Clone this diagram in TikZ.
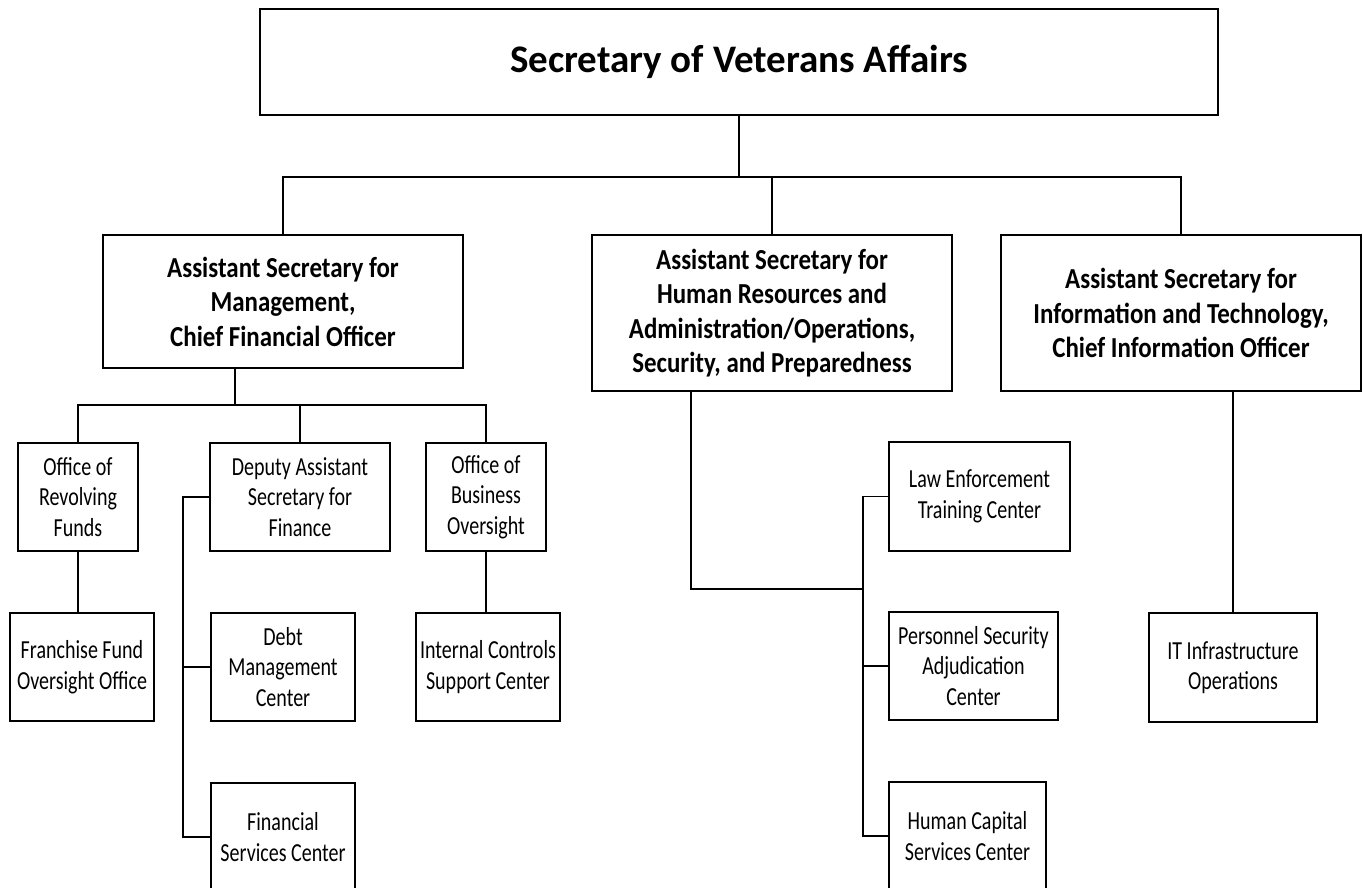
\documentclass[tikz,border=0pt]{standalone}
\usepackage{fontspec}
\setmainfont{Carlito}
\newfontfamily\condfont[FakeStretch=0.86]{Carlito}
\newfontfamily\narrowfont[FakeStretch=0.77]{Carlito}
\begin{document}
\begin{tikzpicture}[x=1pt,y=-1pt,
  box/.style={draw,line width=1.6pt,inner sep=0pt,align=center,anchor=center},
  topbox/.style={box,line width=2pt},
  subtxt/.style={font=\narrowfont\fontsize{26}{30.5}\selectfont},
  boldtxt/.style={font=\condfont\bfseries\fontsize{29}{34.5}\selectfont},
  conn/.style={line width=1.6pt}]
\useasboundingbox (0,0) rectangle (1363,888);
% top
\node[topbox,minimum width=958pt,minimum height=106pt,font=\bfseries\fontsize{39}{42}\selectfont] (sec) at (739,62) {Secretary of Veterans Affairs};
% level 2
\node[topbox,boldtxt,minimum width=360pt,minimum height=133pt] (asm) at (283,301.5) {Assistant Secretary for\\Management,\\Chief Financial Officer};
\node[topbox,boldtxt,minimum width=360pt,minimum height=156pt] (hr) at (772,313) {Assistant Secretary for\\Human Resources and\\Administration/Operations,\\Security, and Preparedness};
\node[topbox,boldtxt,minimum width=360pt,minimum height=156pt] (it) at (1181,313) {Assistant Secretary for\\Information and Technology,\\Chief Information Officer};
% level 3 left
\node[box,subtxt,minimum width=120pt,minimum height=108pt] (rev) at (78,497) {Office of\\Revolving\\Funds};
\node[box,subtxt,minimum width=180pt,minimum height=108pt] (dep) at (300,497) {Deputy Assistant\\Secretary for\\Finance};
\node[box,subtxt,minimum width=120pt,minimum height=108pt] (bus) at (486,497) {Office of\\Business\\Oversight};
\node[box,subtxt,minimum width=144pt,minimum height=108pt] (fra) at (82,667) {Franchise Fund\\Oversight Office};
\node[box,subtxt,minimum width=144pt,minimum height=108pt] (debt) at (283,667) {Debt\\Management\\Center};
\node[box,subtxt,minimum width=144pt,minimum height=108pt] (intc) at (488,667) {Internal Controls\\Support Center};
\node[box,subtxt,minimum width=144pt,minimum height=108pt] (fin) at (283,837) {Financial\\Services Center};
% level 3 middle
\node[box,subtxt,minimum width=181pt,minimum height=109pt] (law) at (979.5,496.5) {Law Enforcement\\Training Center};
\node[box,subtxt,minimum width=169pt,minimum height=108pt] (pers) at (973.5,666) {Personnel Security\\Adjudication\\Center};
\node[box,subtxt,minimum width=157pt,minimum height=108pt] (hum) at (967.5,836) {Human Capital\\Services Center};
% level 3 right
\node[box,subtxt,minimum width=168pt,minimum height=109pt] (itinf) at (1233,667.5) {IT Infrastructure\\Operations};
% connector points
\coordinate (b0) at (739,177);
\coordinate (b1) at (235,405);
\coordinate (dx) at (183,497);
\coordinate (hx) at (691,589);
\coordinate (hy) at (863,589);
% top connectors
\draw[conn] (sec.south) -- (b0);
\draw[conn] (asm.north) -- (asm.north |- b0) -| (it.north);
\draw[conn] (hr.north) -- (hr.north |- b0);
% ASM branch
\draw[conn] (asm.south -| b1) -- (b1);
\draw[conn] (rev.north) -- (rev.north |- b1) -| (bus.north);
\draw[conn] (dep.north) -- (dep.north |- b1);
\draw[conn] (rev.south) -- (rev.south |- fra.north);
\draw[conn] (bus.south) -- (bus.south |- intc.north);
\draw[conn] (dep.west) -- (dx) |- (fin.west);
\draw[conn] (debt.west) -- (debt.west -| dx);
% HR branch
\draw[conn] (hr.south -| hx) -- (hx) -- (hy);
\draw[conn] (law.west) -- (law.west -| hy) |- (hum.west);
\draw[conn] (pers.west) -- (pers.west -| hy);
% IT branch
\draw[conn] (it.south -| itinf.north) -- (itinf.north);
\end{tikzpicture}
\end{document}
